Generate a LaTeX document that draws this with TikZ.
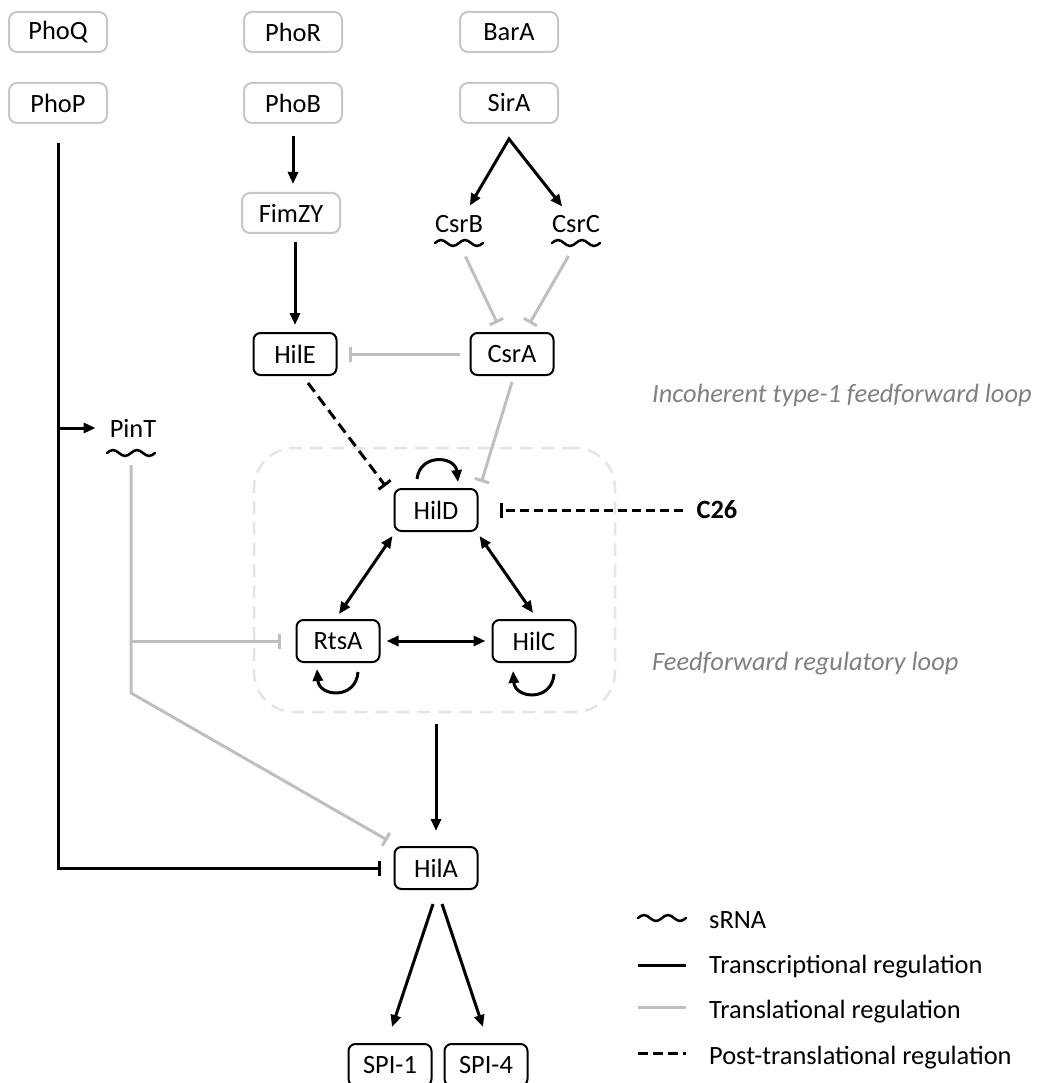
\documentclass[tikz,border=0pt]{standalone}
\usepackage{fontspec}
\setmainfont{Carlito}
\usetikzlibrary{arrows.meta,positioning,calc}

% small RNA wave under a name
\newcommand{\rnawave}[1]{\draw[srna] ([xshift=-24pt]#1) sin ++(6,-3) cos ++(6,3) sin ++(6,3) cos ++(6,-3) sin ++(6,-3) cos ++(6,3) sin ++(6,3) cos ++(6,-3);}

\begin{document}
\begin{tikzpicture}[x=1pt, y=-1pt,
    font=\fontsize{26.4}{31}\selectfont,
    gbox/.style={draw=black!22, line width=2pt, rounded corners=8pt, minimum width=98pt, minimum height=40pt, inner sep=0pt},
    bbox/.style={draw, line width=2pt, rounded corners=7pt, minimum width=83pt, minimum height=42pt, inner sep=0pt},
    txt/.style={inner sep=0pt},
    note/.style={inner sep=0pt, anchor=base west, text=black!50, font=\fontsize{26.4}{31}\selectfont\itshape},
    transc/.style={line width=3pt},
    transl/.style={line width=3pt, draw=black!25},
    posttr/.style={line width=3pt, dash pattern=on 9pt off 5pt},
    act/.style={-{Triangle[length=12pt,width=10pt]}},
    dact/.style={{Triangle[length=12pt,width=10pt]}-{Triangle[length=12pt,width=10pt]}},
    inh/.style={-{Bar[width=15pt]}},
    srna/.style={line width=2.5pt, line cap=round},
    loopbox/.style={draw=black!10, line width=2.5pt, dash pattern=on 13pt off 8pt, rounded corners=40pt}
]
\useasboundingbox (0,0) rectangle (1036,1083);

% feedforward loop frame
\node[loopbox, minimum width=361pt, minimum height=264pt] (ffl) at (434.5,580) {};

\node[gbox] (PhoQ) at (58,32) {PhoQ};
\node[gbox] (PhoP) at (58,103) {PhoP};
\node[gbox] (PhoR) at (293,32) {PhoR};
\node[gbox] (PhoB) at (293,103) {PhoB};
\node[gbox] (BarA) at (509,32) {BarA};
\node[gbox] (SirA) at (509,103) {SirA};
\node[gbox] (FimZY) at (291,213) {FimZY};
\node[txt] (CsrB) at (459,224) {CsrB};
\node[txt] (CsrC) at (576,224) {CsrC};
\node[bbox] (HilE) at (295,354) {HilE};
\node[bbox] (CsrA) at (512,354) {CsrA};
\node[txt] (PinT) at (133,428) {PinT};
\node[bbox] (HilD) at (436,510) {HilD};
\node[txt, font=\fontsize{26.4}{31}\selectfont\bfseries] (C26) at (717,510) {C26};
\node[bbox] (RtsA) at (338,641) {RtsA};
\node[bbox] (HilC) at (534,641) {HilC};
\node[bbox] (HilA) at (436,868) {HilA};
\node[bbox] (SPI1) at (390,1065) {SPI-1};
\node[bbox] (SPI4) at (486,1065) {SPI-4};

\node[note] (iffl) at (652,402) {Incoherent type-1 feedforward loop};
\node[note] (ffrl) at (652,670) {Feedforward regulatory loop};

% sRNA marks
\coordinate (CsrBw) at (459,243);
\coordinate (CsrCw) at (576,243);
\coordinate (PinTw) at (131,453);
\rnawave{CsrBw}
\rnawave{CsrCw}
\rnawave{PinTw}

\coordinate (SirAsplit) at ([yshift=-15pt]SirA.south);
\coordinate (PinTbend) at (131,693);

\draw[transc, act, shorten <=12pt, shorten >=8pt] (PhoB) -- (PhoB |- FimZY.north);
\draw[transc, act, shorten <=8pt, shorten >=7pt] (HilE |- FimZY.south) -- (HilE);
\draw[transc, dact, shorten <=11pt, shorten >=11pt] (CsrB) -- (SirAsplit) -- (CsrC);
\draw[transl, inh, shorten <=15pt, shorten >=10pt] (CsrBw) -- (CsrA);
\draw[transl, inh, shorten <=15pt, shorten >=10pt] (CsrCw) -- (CsrA);
\draw[transl, inh, shorten <=10pt, shorten >=11pt] (CsrA) -- (HilE);
\draw[posttr, dash pattern=on 11pt off 6pt, inh] ([xshift=13pt,yshift=-7pt]HilE.south) -- ([xshift=-8pt,yshift=2pt]HilD.north west);
\draw[transl, inh] ([yshift=-6pt]CsrA.south) -- ([xshift=3pt,yshift=6pt]HilD.north east);
\draw[posttr, inh, shorten <=13pt, shorten >=21pt] (C26) -- (HilD);

% autoregulation
\draw[transc, act] ([xshift=-19pt,yshift=9pt]HilD.north) .. controls +(3,-26) and +(-3,-26) .. ([xshift=22pt,yshift=6pt]HilD.north);
\draw[transc, act] ([xshift=20pt,yshift=-9pt]RtsA.south) .. controls +(-2,28) and +(2,28) .. ([xshift=-21pt,yshift=-6pt]RtsA.south);
\draw[transc, act] ([xshift=20pt,yshift=-11pt]HilC.south) .. controls +(-2,28) and +(2,28) .. ([xshift=-21pt,yshift=-8pt]HilC.south);

\draw[transc, dact] ([xshift=-1pt,yshift=-4pt]HilD.south west) -- ([xshift=1pt,yshift=5pt]RtsA.north);
\draw[transc, dact] ([xshift=1pt,yshift=-4pt]HilD.south east) -- ([xshift=-1pt,yshift=6pt]HilC.north);
\draw[transc, dact, shorten <=6pt, shorten >=6pt] (RtsA) -- (HilC);
\draw[transc, act, shorten <=11pt, shorten >=15pt] (ffl.south -| HilA) -- (HilA);

\draw[transc, inh, shorten >=13pt] ([yshift=-19pt]PhoP.south) |- (HilA);
\draw[transc, act, shorten >=14pt] (PhoP |- PinT) -- (PinT);
\draw[transl, inh, shorten <=12pt, shorten >=12pt] (PinTw) -- (PinTbend) -- (HilA);
\draw[transl, inh, shorten >=15pt] (PinTw |- RtsA) -- (RtsA);

\draw[transc, act] ([xshift=-3pt,yshift=-14pt]HilA.south) -- ([xshift=2pt,yshift=16pt]SPI1.north);
\draw[transc, act] ([xshift=6pt,yshift=-14pt]HilA.south) -- ([xshift=-3pt,yshift=16pt]SPI4.north);

% legend
\node[txt, anchor=base west] (lgsrna) at (709,928) {sRNA};
\node[txt, anchor=base west] (lgtransc) at (709,973) {Transcriptional regulation};
\node[txt, anchor=base west] (lgtransl) at (709,1018) {Translational regulation};
\node[txt, anchor=base west] (lgposttr) at (709,1064) {Post-translational regulation};
\coordinate (lgwave) at ([xshift=-47pt,yshift=10pt]lgsrna.base west);
\rnawave{lgwave}
\draw[transc] ([xshift=-71pt,yshift=8pt]lgtransc.base west) -- ([xshift=-23pt,yshift=8pt]lgtransc.base west);
\draw[transl] ([xshift=-71pt,yshift=11pt]lgtransl.base west) -- ([xshift=-23pt,yshift=11pt]lgtransl.base west);
\draw[posttr, dash pattern=on 10pt off 5pt] ([xshift=-71pt,yshift=11pt]lgposttr.base west) -- ([xshift=-23pt,yshift=11pt]lgposttr.base west);
\end{tikzpicture}
\end{document}
